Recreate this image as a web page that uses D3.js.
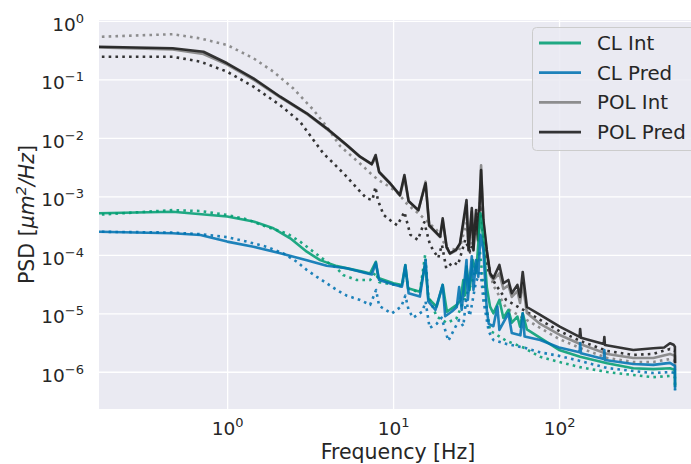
<!DOCTYPE html>
<html>
<head>
<meta charset="utf-8">
<script src="https://cdn.jsdelivr.net/npm/d3@7"></script>
<style>
  html, body { margin: 0; padding: 0; background: #fff; }
  svg { display: block; font-family: "DejaVu Sans", sans-serif; }
</style>
</head>
<body>
<div id="chart"></div>
<script>
// [frequency Hz, PSD um^2/Hz] pairs
const clInt = [[0.16,5.1e-4],[0.47,5.45e-4],[1.0,4.5e-4],[1.44,3.7e-4],[1.9,2.84e-4],[2.4,1.91e-4],[3.02,1.13e-4],[3.63,8.1e-5],[4.58,6.4e-5],[6.63,5.1e-5],[7.27,4.8e-5],[7.87,7.6e-5],[8.15,4.0e-5],[10.05,3.26e-5],[11.3,3.05e-5],[11.85,6.7e-5],[12.3,2.67e-5],[14.5,2.34e-5],[15.6,7.0e-5],[16.3,1.8e-5],[18.3,1.3e-5],[19.9,3.05e-5],[21.1,1.06e-5],[24.2,1.39e-5],[25.5,1.69e-5],[26.5,3.71e-5],[27.0,2.0e-5],[27.7,6.3e-5],[28.9,2.5e-5],[30.2,8.15e-5],[31.7,4.9e-5],[33.6,5.1e-4],[35.0,1.79e-4],[36.7,2.8e-5],[38.4,1.3e-5],[40.2,1.0e-5],[43.7,1.69e-5],[46.2,8.3e-6],[49.5,1.14e-5],[51.9,6.9e-6],[56.1,8.8e-6],[58.2,5.9e-6],[60.4,1.0e-5],[64,5.3e-6],[77,3.8e-6],[100,2.36e-6],[134,1.8e-6],[195,1.4e-6],[280,1.15e-6],[370,1.11e-6],[466,1.15e-6],[499,1.07e-6],[500,5.5e-7]];
const clIntB = [[0.16,4.8e-4],[0.47,5.8e-4],[0.69,5.6e-4],[1.0,4.8e-4],[1.31,4.05e-4],[1.73,3.0e-4],[2.29,2.33e-4],[2.75,1.68e-4],[3.31,1.13e-4],[3.98,7.6e-5],[4.58,5.9e-5],[5.0,4.5e-5],[6.04,3.7e-5],[7.27,3.7e-5],[7.87,5.0e-5],[8.24,3.4e-5],[10.0,3.1e-5],[11.3,2.9e-5],[11.85,5.1e-5],[12.4,2.6e-5],[14.5,2.3e-5],[15.6,1.0e-4],[16.3,2.0e-5],[18.3,8.8e-6],[21,6.9e-6],[24,8.0e-6],[27.5,2.0e-5],[30,3.5e-5],[31.5,6.0e-5],[33.3,1.2e-4],[35,3.0e-5],[38.4,5.0e-6],[40.2,4.65e-6],[48,3.4e-6],[61,2.6e-6],[77,1.8e-6],[100,1.47e-6],[134,1.2e-6],[195,0.99e-6],[280,0.88e-6],[370,0.81e-6],[466,0.85e-6],[499,0.81e-6],[500,4.9e-7]];
const clPred = [[0.16,2.48e-4],[0.47,2.33e-4],[0.69,2.18e-4],[1.0,1.68e-4],[1.44,1.37e-4],[2.09,1.06e-4],[3.02,8.1e-5],[3.98,6.5e-5],[5.26,5.9e-5],[6.8,4.9e-5],[7.44,4.6e-5],[7.87,7.3e-5],[8.24,3.71e-5],[10.05,3.1e-5],[11.3,2.85e-5],[11.85,6.6e-5],[12.4,2.2e-5],[14.5,1.93e-5],[15.7,8.15e-5],[16.3,1.6e-5],[18.0,1.14e-5],[19.9,3.05e-5],[20.6,8.9e-6],[22.6,1.07e-5],[24.2,1.28e-5],[25.0,2.8e-5],[25.9,1.14e-5],[27.7,8.15e-5],[28.2,1.69e-5],[29.8,9.4e-5],[30.5,2.5e-5],[31.6,8.15e-5],[32.6,4.2e-5],[33.6,2.2e-4],[35.0,1.21e-4],[36.7,1.14e-5],[37.7,6.6e-6],[40.2,6.0e-6],[42.5,1.3e-5],[43.7,5.2e-6],[49.5,1.0e-5],[51.9,4.6e-6],[58.5,4.2e-6],[60.4,1.0e-5],[62,4.0e-6],[77,3.5e-6],[100,2.6e-6],[133,2.15e-6],[134,3.1e-6],[135.5,2.07e-6],[186,1.65e-6],[187.5,2.36e-6],[189,1.59e-6],[280,1.36e-6],[370,1.31e-6],[466,1.42e-6],[499,1.26e-6],[500,4.8e-7]];
const clPredB = [[0.16,2.48e-4],[0.47,2.4e-4],[0.69,2.25e-4],[1.0,2.0e-4],[1.31,1.68e-4],[1.73,1.37e-4],[2.18,1.06e-4],[2.63,7.6e-5],[3.02,5.5e-5],[3.47,4.2e-5],[3.98,3.26e-5],[4.58,2.5e-5],[5.26,2.0e-5],[6.33,1.69e-5],[7.27,1.39e-5],[7.9,2.5e-5],[8.24,1.34e-5],[9.8,9.9e-6],[11.2,1.3e-5],[11.85,2.0e-5],[12.4,1.14e-5],[13.2,8.4e-6],[15.0,1.07e-5],[15.7,1.58e-5],[16.6,5.6e-6],[18.3,6.6e-6],[19.6,8.4e-6],[21.5,3.37e-6],[23,4.9e-6],[25,7.7e-6],[26.5,6.0e-6],[27.5,1.69e-5],[29,9.0e-6],[30.5,2.0e-5],[31.5,3.3e-5],[33.6,5.5e-5],[35,1.69e-5],[37.7,4.9e-6],[40.2,3.5e-6],[48,3.0e-6],[61,2.6e-6],[77,2.15e-6],[100,1.87e-6],[134,1.53e-6],[195,1.16e-6],[280,1.03e-6],[370,0.95e-6],[466,0.99e-6],[500,0.95e-6]];
const polInt = [[0.16,0.35],[0.47,0.325],[0.72,0.27],[1.0,0.178],[1.44,0.099],[2.09,0.049],[3.02,0.0255],[3.98,0.0142],[5.26,0.0074],[6.33,0.0047],[7.44,0.0035],[7.85,0.0046],[8.24,0.0026],[9.6,0.00163],[11.0,0.00102],[11.7,0.0021],[12.4,0.00082],[14.2,0.00057],[15.7,0.00178],[16.5,0.00031],[19.2,0.0002],[19.9,0.00038],[21.0,0.000135],[22.0,0.000104],[23.9,0.000118],[25.3,0.000152],[27.7,0.0007],[28.5,0.000118],[29.8,0.00055],[30.5,0.000118],[31.6,0.0005],[32.5,0.00017],[33.9,0.0034],[35.0,0.00037],[36.7,0.000112],[38.4,4.5e-5],[40.2,3.71e-5],[43.7,4.8e-5],[46.2,2.6e-5],[49.5,3.0e-5],[51.9,1.9e-5],[56.1,2.4e-5],[58.2,1.5e-5],[60.4,3.3e-5],[64,1.01e-5],[77,6.56e-6],[101,4.26e-6],[134,2.99e-6],[195,2.02e-6],[280,1.72e-6],[370,1.72e-6],[466,2.02e-6],[499,1.87e-6],[500,1.07e-6]];
const polIntB = [[0.16,0.53],[0.47,0.59],[0.69,0.50],[1.0,0.386],[1.44,0.229],[1.9,0.135],[2.5,0.070],[3.31,0.030],[3.98,0.0155],[4.8,0.0072],[6.49,0.0034],[7.27,0.0025],[8.15,0.0019],[9.15,0.00156],[10.5,0.0012],[12.3,0.00071],[14.2,0.00051],[18.3,0.000265],[21.1,0.00013],[25,0.00012],[27.7,0.00035],[29,0.00012],[31,0.00025],[33.6,0.0009],[35.5,0.00015],[40,3.05e-5],[48,1.23e-5],[61,8.3e-6],[77,5.6e-6],[100,3.64e-6],[134,2.55e-6],[195,1.72e-6],[280,1.47e-6],[370,1.47e-6],[466,1.65e-6],[500,1.53e-6]];
const polPred = [[0.16,0.361],[0.47,0.339],[0.72,0.296],[1.0,0.188],[1.44,0.104],[2.09,0.0504],[3.02,0.0262],[3.98,0.0145],[5.26,0.00753],[6.33,0.00475],[7.44,0.00356],[7.85,0.00508],[8.24,0.0026],[9.6,0.00167],[11.0,0.00105],[11.7,0.00231],[12.4,0.00083],[14.2,0.00058],[15.7,0.00167],[16.5,0.00032],[19.2,0.000204],[19.9,0.00042],[21.0,0.000137],[22.0,0.000106],[23.9,0.000121],[25.3,0.000157],[27.7,0.000865],[28.5,0.000121],[29.8,0.00063],[30.5,0.000121],[31.6,0.00058],[32.5,0.000179],[33.9,0.00282],[35.0,0.000394],[36.7,0.000121],[38.4,4.83e-5],[40.2,4.0e-5],[43.7,6.7e-5],[46.2,3.26e-5],[49.5,3.71e-5],[51.9,2.2e-5],[56.1,3.05e-5],[58.2,1.9e-5],[60.4,5.08e-5],[64,1.28e-5],[77,9.35e-6],[101,5.9e-6],[133,3.94e-6],[134,5.4e-6],[135.5,3.8e-6],[186,2.99e-6],[187.5,3.94e-6],[189,2.87e-6],[280,2.36e-6],[370,2.52e-6],[430,2.6e-6],[466,3.07e-6],[490,2.9e-6],[499,2.69e-6],[500,1.41e-6]];
const polPredB = [[0.16,0.243],[0.47,0.243],[0.69,0.20],[1.0,0.135],[1.44,0.075],[2.09,0.036],[2.75,0.0188],[3.31,0.0092],[3.8,0.0054],[4.37,0.00367],[5.26,0.00216],[6.33,0.0012],[6.94,0.00092],[7.5,0.00086],[7.83,0.00144],[8.1,0.00086],[8.76,0.00048],[9.83,0.00037],[10.6,0.00032],[11.7,0.00054],[12.7,0.00022],[14.1,0.00018],[15.4,0.00036],[16.7,0.000147],[18.7,8.8e-5],[19.7,0.000147],[20.9,5.9e-5],[23.0,7.5e-5],[24.6,6.7e-5],[27.2,0.00018],[29.1,0.00011],[31.2,0.00022],[33.3,0.00071],[35.3,0.00018],[37.4,5.5e-5],[41.2,3.2e-5],[48,1.69e-5],[61,1.14e-5],[77,7.68e-6],[100,5.0e-6],[134,3.37e-6],[195,2.27e-6],[280,1.94e-6],[370,2.02e-6],[466,2.46e-6],[500,2.27e-6]];

const legendLabels = ['CL Int', 'CL Pred', 'POL Int', 'POL Pred'];
const xTicks = [1, 10, 100];
const yTicks = [1, 1e-1, 1e-2, 1e-3, 1e-4, 1e-5, 1e-6];

const colors = { 'CL Int': '#029E73', 'CL Pred': '#0173B2', 'POL Int': '#7f7f7f', 'POL Pred': '#1a1a1a' };

// draw order: dotted first, POL under CL
const series = [
    { label: 'POL Int', values: polIntB, dotted: true },
    { label: 'POL Pred', values: polPredB, dotted: true },
    { label: 'POL Int', values: polInt, dotted: false },
    { label: 'POL Pred', values: polPred, dotted: false },
    { label: 'CL Int', values: clIntB, dotted: true },
    { label: 'CL Pred', values: clPredB, dotted: true },
    { label: 'CL Int', values: clInt, dotted: false },
    { label: 'CL Pred', values: clPred, dotted: false }
];

const width = 691, height = 464;
const plot = { left: 99, right: 697, top: 20, bottom: 409 };
const textColor = '#262626';

const svg = d3.select('#chart').append('svg')
    .attr('width', width)
    .attr('height', height);

const x = d3.scaleLog().domain([0.169, 678]).range([plot.left, plot.right]);
const y = d3.scaleLog().domain([2.31e-7, 1.032]).range([plot.bottom, plot.top]);

svg.append('rect')
    .attr('x', plot.left).attr('y', plot.top)
    .attr('width', plot.right - plot.left).attr('height', plot.bottom - plot.top)
    .attr('fill', '#EAEAF2');

svg.append('clipPath').attr('id', 'clip')
    .append('rect')
    .attr('x', plot.left).attr('y', plot.top)
    .attr('width', plot.right - plot.left).attr('height', plot.bottom - plot.top);

function supText(sel, exp) {
    sel.append('tspan').text('10');
    sel.append('tspan')
        .attr('font-size', 13)
        .attr('dy', -8)
        .text(exp < 0 ? '\u2212' + (-exp) : String(exp));
}

// x axis + vertical grid
const gx = svg.append('g')
    .attr('transform', `translate(0,${plot.bottom})`)
    .call(d3.axisBottom(x).tickValues(xTicks).tickSize(-(plot.bottom - plot.top)).tickPadding(0));
gx.select('.domain').remove();
gx.selectAll('.tick line').attr('stroke', '#fff').attr('stroke-width', 1.3);
gx.selectAll('.tick text').each(function (d) {
    const t = d3.select(this).text(null)
        .attr('y', 25.5).attr('dy', null)
        .attr('fill', textColor).attr('font-size', 18.5)
        .attr('font-family', '"DejaVu Sans", sans-serif');
    supText(t, Math.round(Math.log10(d)));
});

// y axis + horizontal grid
const gy = svg.append('g')
    .attr('transform', `translate(${plot.left},0)`)
    .call(d3.axisLeft(y).tickValues(yTicks).tickSize(-(plot.right - plot.left)).tickPadding(0));
gy.select('.domain').remove();
gy.selectAll('.tick line').attr('stroke', '#fff').attr('stroke-width', 1.3);
gy.selectAll('.tick text').each(function (d) {
    const t = d3.select(this).text(null)
        .attr('x', -15).attr('y', 9.5).attr('dy', null)
        .attr('fill', textColor).attr('font-size', 18.5)
        .attr('font-family', '"DejaVu Sans", sans-serif');
    supText(t, Math.round(Math.log10(d)));
});

const line = d3.line()
    .x(d => x(d[0]))
    .y(d => y(d[1]));

const lines = svg.append('g').attr('clip-path', 'url(#clip)');
series.forEach(s => {
    lines.append('path')
        .datum(s.values)
        .attr('d', line)
        .attr('fill', 'none')
        .attr('stroke', colors[s.label])
        .attr('stroke-opacity', 0.88)
        .attr('stroke-width', 2.6)
        .attr('stroke-linejoin', 'round')
        .attr('stroke-dasharray', s.dotted ? '2.6,4.2' : null);
});

// axis labels
svg.append('text')
    .attr('x', (plot.left + plot.right) / 2)
    .attr('y', 458.5)
    .attr('text-anchor', 'middle')
    .attr('font-size', 20.5)
    .attr('fill', textColor)
    .text('Frequency [Hz]');

const yl = svg.append('text')
    .attr('transform', `translate(34,${(plot.top + plot.bottom) / 2}) rotate(-90)`)
    .attr('text-anchor', 'middle')
    .attr('font-size', 20.5)
    .attr('fill', textColor);
yl.append('tspan').text('PSD [');
yl.append('tspan').attr('font-style', 'italic').text('\u03bcm');
yl.append('tspan').attr('font-style', 'italic').attr('font-size', 14.5).attr('dy', -8).text('2');
yl.append('tspan').attr('font-style', 'italic').attr('dy', 8).text('/Hz');
yl.append('tspan').text(']');

// legend
const legend = svg.append('g');
legend.append('rect')
    .attr('x', 532.5).attr('y', 27.5)
    .attr('width', 170).attr('height', 123)
    .attr('rx', 4)
    .attr('fill', '#EAEAF2').attr('fill-opacity', 0.85)
    .attr('stroke', '#cccccc').attr('stroke-width', 1);
legendLabels.forEach((lab, i) => {
    const cy = 43 + i * 29.7;
    legend.append('line')
        .attr('x1', 539).attr('x2', 581)
        .attr('y1', cy).attr('y2', cy)
        .attr('stroke', colors[lab])
        .attr('stroke-opacity', 0.88)
        .attr('stroke-width', 2.8);
    legend.append('text')
        .attr('x', 597).attr('y', cy + 7)
        .attr('font-size', 19.8)
        .attr('fill', textColor)
        .text(lab);
});
</script>
</body>
</html>
